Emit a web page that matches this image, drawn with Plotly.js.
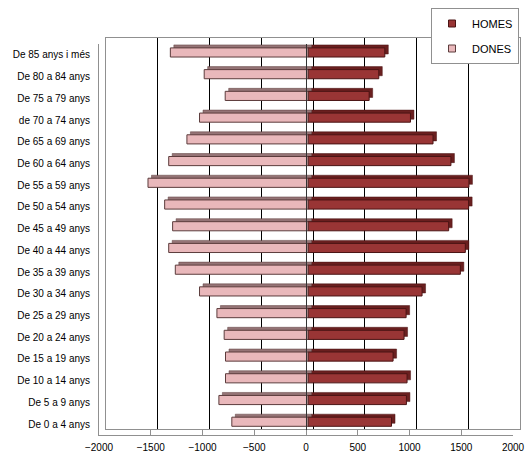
<!DOCTYPE html>
<html><head><meta charset="utf-8">
<script src="https://cdn.plot.ly/plotly-3.0.1.min.js"></script>
<style>html,body{margin:0;padding:0;background:#fff}#chart{width:526px;height:452px}</style>
</head><body><div id="chart"></div>
<script>
const categories = ["De 0 a 4 anys","De 5 a 9 anys","De 10 a 14 anys","De 15 a 19 anys","De 20 a 24 anys","De 25 a 29 anys","De 30 a 34 anys","De 35 a 39 anys","De 40 a 44 anys","De 45 a 49 anys","De 50 a 54 anys","De 55 a 59 anys","De 60 a 64 anys","De 65 a 69 anys","de 70 a 74 anys","De 75 a 79 anys","De 80 a 84 anys","De 85 anys i més"];
const homes = [807, 951, 957, 822, 928, 948, 1102, 1472, 1520, 1359, 1552, 1555, 1381, 1208, 990, 591, 684, 742];
const dones = [736, 861, 797, 797, 810, 880, 1048, 1282, 1346, 1308, 1385, 1546, 1346, 1170, 1048, 800, 1003, 1330];
const xTicks = [-2000, -1500, -1000, -500, 0, 500, 1000, 1500, 2000];
const gridTicks = [-1500, -1000, -500, 0, 500, 1000, 1500];
const seriesNames = ["HOMES", "DONES"];
const frontColors = ["#993535", "#e9b8bb"];
const edgeColors = ["#4a1414", "#5c3c3c"];
const depthColors = ["#6a1f1f", "#957476"];

const W = 421, H = 397, PW = 414, PH = 391;
function dom(dx, dy) { return { x: [dx / W, (PW + dx) / W], y: [dy / H, (PH + dy) / H] }; }
const dBack = dom(7, 6), dDepth = dom(5.5, 5.4), dBar = dom(2, 2.4), dFront = dom(0, 0);
const xr = [-2000, 2000], yr = [-0.5, categories.length - 0.5];
const font = "Liberation Sans, Arial, sans-serif";
const donesNeg = dones.map(v => -v);
const blanks = categories.map(() => null);
const bw = 0.42;

const traces = [
  // placeholder (no visible marks) so the back-wall subplot gets created
  {type: "scatter", mode: "markers", x: blanks, y: categories, xaxis: "x", yaxis: "y", showlegend: false, hoverinfo: "skip"},
  // depth faces of the 3D bars
  {type: "bar", orientation: "h", x: homes, y: categories, xaxis: "x2", yaxis: "y2", width: bw,
   marker: {color: depthColors[0], line: {color: edgeColors[0], width: 0.5}}, showlegend: false, hoverinfo: "skip"},
  {type: "bar", orientation: "h", x: donesNeg, y: categories, xaxis: "x2", yaxis: "y2", width: bw,
   marker: {color: depthColors[1], line: {color: edgeColors[1], width: 0.5}}, showlegend: false, hoverinfo: "skip"},
  // front faces
  {type: "bar", orientation: "h", name: seriesNames[0], x: homes, y: categories, xaxis: "x3", yaxis: "y3", width: bw,
   showlegend: false, marker: {color: frontColors[0], line: {color: edgeColors[0], width: 1}}},
  {type: "bar", orientation: "h", name: seriesNames[1], x: donesNeg, y: categories, xaxis: "x3", yaxis: "y3", width: bw,
   showlegend: false, marker: {color: frontColors[1], line: {color: edgeColors[1], width: 1}}},
  // legend entries (small square keys like the original)
  {type: "scatter", mode: "markers", name: seriesNames[0], x: [null], y: [null], xaxis: "x4", yaxis: "y4", legendgroup: "h",
   marker: {symbol: "square", size: 7, color: frontColors[0], line: {color: edgeColors[0], width: 1}}, hoverinfo: "skip"},
  {type: "scatter", mode: "markers", name: seriesNames[1], x: [null], y: [null], xaxis: "x4", yaxis: "y4", legendgroup: "d",
   marker: {symbol: "square", size: 7, color: frontColors[1], line: {color: edgeColors[1], width: 1}}, hoverinfo: "skip"},
  {type: "scatter", mode: "markers", x: blanks, y: categories, xaxis: "x4", yaxis: "y4", showlegend: false, hoverinfo: "skip"}
];

const hiddenX = {range: xr, showgrid: false, zeroline: false, showticklabels: false, ticks: "", showline: false};
const hiddenY = {type: "category", categoryorder: "array", categoryarray: categories, range: yr,
  showgrid: false, zeroline: false, showticklabels: false, ticks: "", showline: false};

const layout = {
  width: 526, height: 452,
  margin: {l: 99, r: 6, t: 38, b: 17, pad: 0},
  paper_bgcolor: "#ffffff", plot_bgcolor: "rgba(0,0,0,0)",
  font: {family: font, size: 10, color: "#000"},
  barmode: "overlay",
  showlegend: true,
  legend: {x: (519 - 99) / W, y: (435 - 8) / H, xanchor: "right", yanchor: "top",
    bgcolor: "#ffffff", bordercolor: "#909090", borderwidth: 1, itemwidth: 30,
    font: {family: font, size: 11, color: "#000"}, traceorder: "grouped", tracegroupgap: 6},
  xaxis: {domain: dBack.x, anchor: "y", range: xr, tickmode: "array", tickvals: gridTicks,
    showgrid: true, gridcolor: "#000", gridwidth: 1, zeroline: false, showticklabels: false, ticks: "",
    showline: true, linecolor: "#909090", linewidth: 1, mirror: true},
  yaxis: Object.assign({}, hiddenY, {domain: dBack.y, anchor: "x", showline: true, linecolor: "#909090", mirror: true}),
  xaxis2: Object.assign({}, hiddenX, {domain: dDepth.x, anchor: "y2"}),
  yaxis2: Object.assign({}, hiddenY, {domain: dDepth.y, anchor: "x2"}),
  xaxis3: Object.assign({}, hiddenX, {domain: dBar.x, anchor: "y3"}),
  yaxis3: Object.assign({}, hiddenY, {domain: dBar.y, anchor: "x3"}),
  xaxis4: {domain: dFront.x, anchor: "y4", range: xr, tickmode: "array", tickvals: xTicks,
    showgrid: false, zeroline: true, zerolinecolor: "#333333", zerolinewidth: 1,
    showline: true, linecolor: "#909090", linewidth: 1, ticks: "inside", ticklen: 5, tickcolor: "#909090",
    ticklabelstandoff: 3, tickfont: {family: font, size: 10, color: "#000"}},
  yaxis4: {domain: dFront.y, anchor: "x4", type: "category", categoryorder: "array", categoryarray: categories, range: yr,
    showgrid: false, zeroline: false, showline: true, linecolor: "#909090", linewidth: 1, ticks: "",
    ticklabelstandoff: 6, tickfont: {family: font, size: 10, color: "#000"}}
};

Plotly.newPlot("chart", traces, layout, {displayModeBar: false, staticPlot: true});
</script>
</body></html>
